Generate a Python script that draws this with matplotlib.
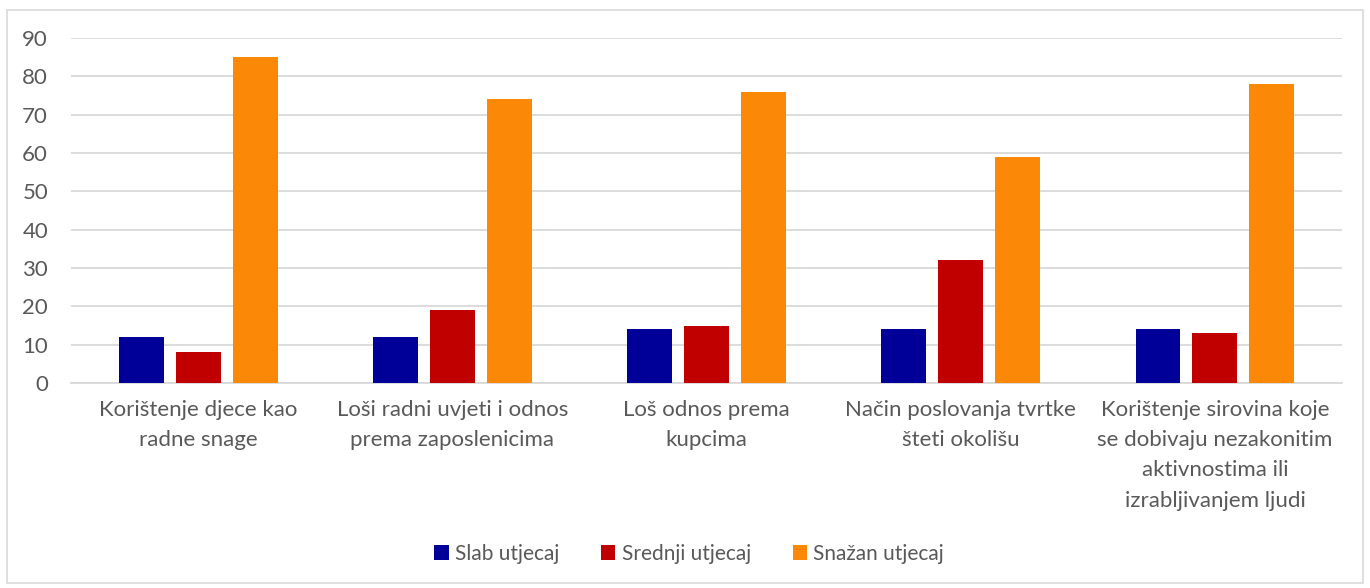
import numpy as np
import matplotlib.pyplot as plt
from matplotlib.patches import Rectangle

plt.rcParams['font.family'] = ['Lato', 'DejaVu Sans']

categories = ['Korištenje djece kao\nradne snage',
              'Loši radni uvjeti i odnos\nprema zaposlenicima',
              'Loš odnos prema\nkupcima',
              'Način poslovanja tvrtke\nšteti okolišu',
              'Korištenje sirovina koje\nse dobivaju nezakonitim\naktivnostima ili\nizrabljivanjem ljudi']
series = ['Slab utjecaj', 'Srednji utjecaj', 'Snažan utjecaj']
slab = [12, 12, 14, 14, 14]
srednji = [8, 19, 15, 32, 13]
snazan = [85, 74, 76, 59, 78]
colors = ['#000099', '#C00000', '#FB8807']

fig = plt.figure(figsize=(13.7, 5.88), dpi=100)
fig.patches.append(Rectangle((0.005, 0.008), 0.99, 0.975, transform=fig.transFigure,
                             fill=False, edgecolor='#D9D9D9', lw=1.2))
ax = fig.add_axes([0.0518, 0.3486, 0.9278, 0.5868])

x = np.arange(len(categories))
w = 0.177
step = 0.224
for i, (vals, name) in enumerate(zip([slab, srednji, snazan], series)):
    ax.bar(x + (i - 1) * step, vals, w, color=colors[i], label=name, zorder=3)

ax.set_xlim(-0.5, len(categories) - 0.5)
ax.set_ylim(0, 90)
ax.set_yticks(range(0, 91, 10))
ax.yaxis.grid(True, color='#D9D9D9', lw=1.3, zorder=0)
ax.set_axisbelow(True)
for s in ['top', 'right', 'left']:
    ax.spines[s].set_visible(False)
ax.spines['bottom'].set_color('#D9D9D9')
ax.spines['bottom'].set_linewidth(1.3)
ax.set_xticks(x)
ax.set_xticklabels(categories, linespacing=1.65)
ax.tick_params(axis='both', length=0, labelsize=16, colors='#595959')
ax.tick_params(axis='x', pad=12)
ax.tick_params(axis='y', pad=16.5)

leg = fig.legend(loc='center', bbox_to_anchor=(0.503, 0.058), ncol=3, frameon=False,
                 fontsize=15, handlelength=0.7, handleheight=0.7, handletextpad=0.3,
                 columnspacing=2.0)
for t in leg.get_texts():
    t.set_color('#595959')

plt.savefig('out.png', dpi=100)
